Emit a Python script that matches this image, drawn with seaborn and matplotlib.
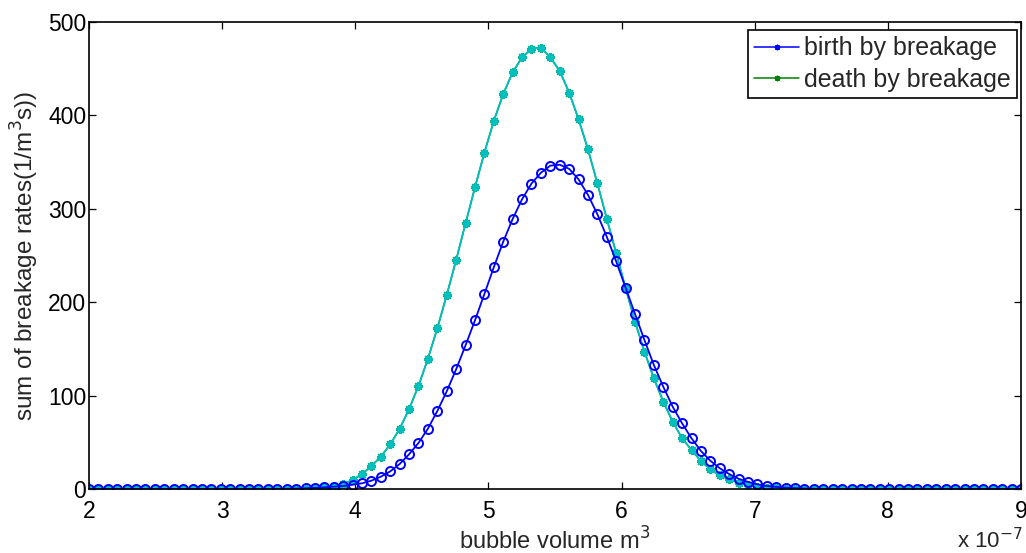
import numpy as np
import matplotlib
matplotlib.use("Agg")
import matplotlib.pyplot as plt
import seaborn as sns
from matplotlib.lines import Line2D
from matplotlib.ticker import FuncFormatter

# 100 evenly spaced bubble volumes, 2e-7 .. 9e-7 m^3
bubble_volume = np.linspace(2, 9, 100) * 1e-7

birth_by_breakage = [0.0] * 21 + [
    0.2, 0.4, 0.8, 1.2, 1.8, 2.5, 3.2, 4.6, 6.1, 8.9,
    13.2, 18.9, 26.8, 37.2, 49.3, 64.6, 83.5, 104.6, 128.2, 153.9,
    180.6, 208.8, 237.4, 264.8, 289.1, 310.2, 327.0, 338.6, 346.2, 347.2,
    342.8, 331.5, 315.0, 294.2, 270.1, 243.6, 215.5, 187.4, 159.5, 132.8,
    109.5, 88.1, 70.3, 54.3, 40.7, 30.3, 22.2, 16.0, 11.0, 7.6,
    5.0, 3.2, 2.2, 1.4, 0.9, 0.5, 0.3, 0.1,
] + [0.0] * 21

death_by_breakage = [0.0] * 22 + [
    0.2, 0.5, 1.0, 1.9, 3.2, 5.4, 9.6, 16.1, 24.6, 34.6,
    47.8, 64.5, 85.6, 110.5, 139.5, 172.0, 207.7, 245.2, 284.5, 323.0,
    360.1, 394.0, 422.9, 446.1, 462.2, 471.5, 472.5, 462.2, 447.5, 424.5,
    396.0, 363.7, 327.3, 289.4, 252.4, 215.0, 179.1, 147.0, 118.5, 93.5,
    72.1, 54.3, 41.8, 30.0, 21.0, 14.5, 10.4, 6.7, 4.3, 2.5,
    1.5, 0.8, 0.4, 0.2,
] + [0.0] * 24

legend_labels = ["birth by breakage", "death by breakage"]
x_ticks = [2, 3, 4, 5, 6, 7, 8, 9]
y_ticks = [0, 100, 200, 300, 400, 500]

sns.set_style("white")
plt.rcParams["font.family"] = ["Liberation Sans", "DejaVu Sans"]

fig = plt.figure(figsize=(10.26, 5.53), dpi=100)
ax = fig.add_axes([89 / 1026, 1 - 489 / 553, 932 / 1026, 467 / 553])

asterisk = (8, 2, 0)
teal = (0.0, 0.75, 0.75)

# death line in green under its teal overlay, birth as open circles
ax.plot(bubble_volume, death_by_breakage, color="green", marker=asterisk,
        markersize=6.5, linewidth=1.1, markeredgewidth=1.3)
ax.plot(bubble_volume, death_by_breakage, color=teal, marker=asterisk,
        markersize=6, linewidth=1.3, markeredgewidth=1.3)
sns.lineplot(x=bubble_volume, y=birth_by_breakage, ax=ax, color="blue", marker="o",
             markersize=6.5, markerfacecolor="none", markeredgecolor="blue",
             linewidth=1.3, markeredgewidth=1.4, estimator=None, sort=False)

ax.set_xlim(2e-7, 9e-7)
ax.set_ylim(0, 500)
ax.set_xticks([t * 1e-7 for t in x_ticks])
ax.xaxis.set_major_formatter(FuncFormatter(lambda v, p: f"{v * 1e7:.0f}"))
ax.set_yticks(y_ticks)

for s in ax.spines.values():
    s.set_visible(True)
    s.set_color("black")
    s.set_linewidth(1.2)

ax.tick_params(axis="both", direction="in", length=5, width=0.9, colors="black",
               labelsize=16.5, top=True, right=True, bottom=True, left=True)
ax.tick_params(axis="x", pad=8)
ax.tick_params(axis="y", pad=2)

ax.set_xlabel("bubble volume m$^3$", fontsize=17, labelpad=3)
ax.set_ylabel("sum of breakage rates(1/m$^3$s))", fontsize=17.5, labelpad=5)
fig.text(0.997, 0.0, "x 10$^{-7}$", ha="right", va="bottom", fontsize=16)

handles = [
    Line2D([], [], color="blue", marker=asterisk, markersize=4, linewidth=1.1),
    Line2D([], [], color="green", marker=asterisk, markersize=4, linewidth=1.1),
]
leg = ax.legend(handles, legend_labels, loc="upper right",
                bbox_to_anchor=(1017 / 1026, 1 - 30 / 553), bbox_transform=fig.transFigure,
                fontsize=18, frameon=True, fancybox=False, edgecolor="black", framealpha=1,
                borderaxespad=0, handlelength=1.8, handletextpad=0.2, borderpad=0.25,
                labelspacing=0.3)
leg.get_frame().set_linewidth(1.2)

fig.savefig("out.png", dpi=100)
